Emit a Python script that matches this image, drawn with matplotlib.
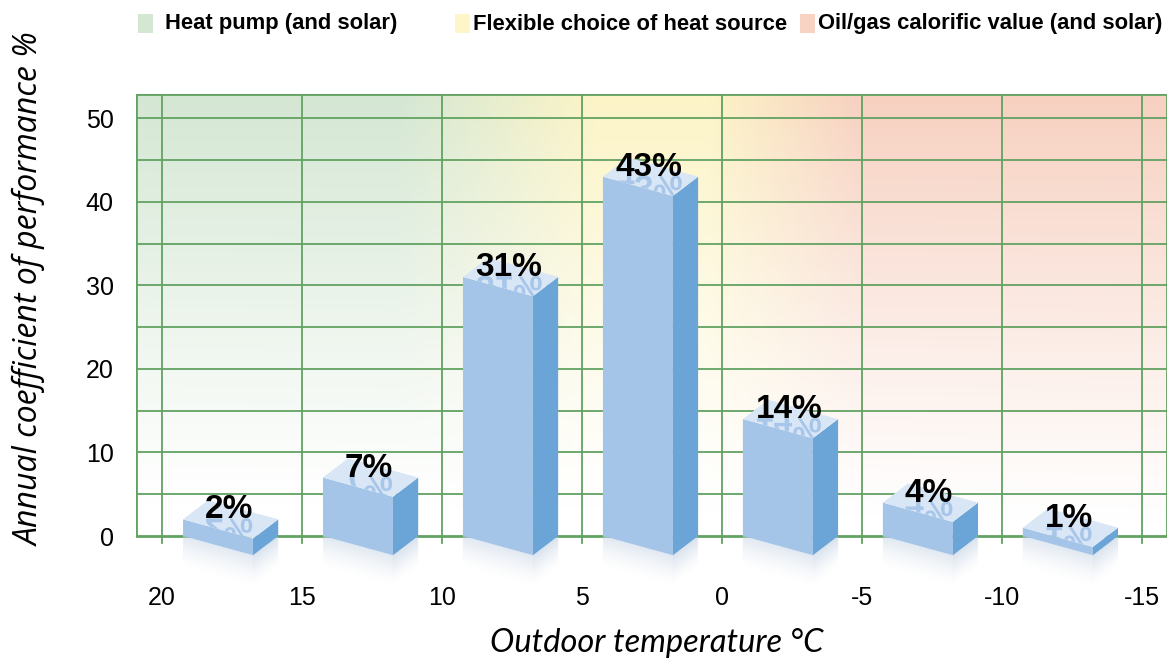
import numpy as np
import matplotlib
matplotlib.use("Agg")
import matplotlib.pyplot as plt
from matplotlib.patches import Polygon, Rectangle, PathPatch
from matplotlib.textpath import TextPath
from matplotlib.font_manager import FontProperties
import matplotlib.transforms as mtransforms

# share of annual heating work per outdoor temperature band
band_centres = [17.5, 12.5, 7.5, 2.5, -2.5, -7.5, -12.5]
shares = [2, 7, 31, 43, 14, 4, 1]
share_labels = ["2%", "7%", "31%", "43%", "14%", "4%", "1%"]
temp_ticks = [20, 15, 10, 5, 0, -5, -10, -15]
temp_ticklabels = ["20", "15", "10", "5", "0", "-5", "-10", "-15"]
perf_ticks = [0, 10, 20, 30, 40, 50]
legend_names = ["Heat pump (and solar)", "Flexible choice of heat source",
                "Oil/gas calorific value (and solar)"]

plt.rcParams["font.family"] = ["Liberation Sans", "DejaVu Sans"]

DPI = 100
W, H = 1173, 664
x_lo, x_hi = 20.93, -15.9
y_bot, y_top = -5.5, 52.9

fig = plt.figure(figsize=(W / DPI, H / DPI), dpi=DPI)
ax = fig.add_axes([136 / W, (H - 582) / H, 1031 / W, 488 / H])
ax.set_xlim(x_lo, x_hi)
ax.set_ylim(y_bot, y_top)
for s in ax.spines.values():
    s.set_visible(False)

# background: green -> yellow -> salmon, fading to white towards the bottom
green = np.array([212, 231, 211]) / 255
yellow = np.array([252, 244, 198]) / 255
salmon = np.array([247, 208, 192]) / 255
tx = np.linspace(x_lo, x_hi, 400)
vy = np.linspace(0, y_top, 200)
anchors_t = [-16, -5, 0.5, 4.5, 11.5, 21]
cols = np.array([salmon, salmon, yellow, yellow, green, green])
row = np.stack([np.interp(tx, anchors_t, cols[:, k]) for k in range(3)], axis=1)
v0 = np.interp(tx, [-16, 0, 21], [1.5, 3.0, 4.0])
fade = np.clip((vy[:, None] - v0[None, :]) / (y_top - v0[None, :]), 0, 1) ** 1.1
img = 1 - fade[:, :, None] * (1 - row[None, :, :])
ax.imshow(img, extent=(x_lo, x_hi, 0, y_top), origin="lower", aspect="auto",
          interpolation="bilinear", zorder=0)

grid_c = "#62a262"
for yv in range(5, 51, 5):
    ax.plot([x_lo, x_hi], [yv, yv], color=grid_c, lw=1.3, zorder=1)
for t in temp_ticks:
    ax.plot([t, t], [-0.85, y_top], color=grid_c, lw=1.3, zorder=1)
ax.add_patch(Rectangle((x_lo, 0), x_hi - x_lo, y_top, fill=False,
                       edgecolor=grid_c, lw=2, zorder=1))

front_c, side_c, top_c = "#a5c5e8", "#6ba4d6", "#d8e6f6"
ghost_c = "#a3c3e8"
fp_label = FontProperties(family="Liberation Sans", weight="bold", size=24)
px_per_pt = DPI / 72.0

for c, h, lab in zip(band_centres, shares, share_labels):
    fl, fr, br, bl = c + 1.75, c - 0.75, c - 1.65, c + 0.85
    d = 2.3
    # reflection below the box
    n = 24
    depth = 3.6
    for i in range(n):
        a0 = i / n * depth
        a1 = (i + 1) / n * depth
        al = 0.55 * (1 - i / n) ** 1.5
        ax.add_patch(Polygon([(fl, -a0), (fr, -d - a0), (fr, -d - a1), (fl, -a1)],
                             closed=True, fc="#c9d6e6", ec="none", alpha=al,
                             zorder=2, clip_on=False))
        ax.add_patch(Polygon([(fr, -d - a0), (br, -a0), (br, -a1), (fr, -d - a1)],
                             closed=True, fc="#b9cbe0", ec="none", alpha=al,
                             zorder=2, clip_on=False))
    front = Polygon([(fl, 0), (fr, -d), (fr, h - d), (fl, h)], closed=True,
                    fc=front_c, ec="none", zorder=3, clip_on=False)
    side = Polygon([(fr, -d), (br, 0), (br, h), (fr, h - d)], closed=True,
                   fc=side_c, ec="none", zorder=3, clip_on=False)
    top = Polygon([(fl, h), (fr, h - d), (br, h), (bl, h + d)], closed=True,
                  fc=top_c, ec="none", zorder=3, clip_on=False)
    for p in (front, side, top):
        ax.add_patch(p)

    # mirrored label reflected on the top face
    tp = TextPath((0, 0), lab, prop=fp_label)
    ext = tp.get_extents()
    trans = (mtransforms.Affine2D().translate(-(ext.x0 + ext.x1) / 2, 0)
             .scale(px_per_pt, -px_per_pt)
             + mtransforms.ScaledTranslation(c + 0.1, h + 0.1, ax.transData))
    ghost = PathPatch(tp, transform=trans, fc=ghost_c, ec="none", alpha=0.9,
                      zorder=4)
    ghost.set_clip_path(top)
    ax.add_patch(ghost)

    ax.text(c + 0.1, h + 0.1, lab, ha="center", va="baseline",
            fontproperties=fp_label, color="black", zorder=5)

ax.set_xticks(temp_ticks)
ax.set_xticklabels(temp_ticklabels)
ax.set_yticks(perf_ticks)
ax.tick_params(axis="both", length=0, labelsize=18)
ax.tick_params(axis="y", pad=16)
ax.tick_params(axis="x", pad=3)

fig.text(657 / W, 1 - 643 / H, "Outdoor temperature °C", ha="center", va="center",
         family=["Lato", "DejaVu Sans"], style="italic", fontsize=23.5)
fig.text(30 / W, 1 - 289 / H, "Annual coefficient of performance %", ha="center",
         va="center", rotation=90, family=["Open Sans", "DejaVu Sans"],
         style="italic", fontsize=23)

# legend along the top edge
legend_cols = ["#d4e7d3", "#fdf6c8", "#f8d3c3"]
legend_sq = [138, 455, 800]
legend_tx = [165, 473, 818]
for x0, xt, col, name in zip(legend_sq, legend_tx, legend_cols, legend_names):
    fig.patches.append(Rectangle((x0 / W, 1 - 33 / H), 15 / W, 19 / H,
                                 transform=fig.transFigure, fc=col, ec="none"))
    fig.text(xt / W, 1 - 24 / H, name, ha="left", va="center",
             family=["Liberation Sans", "DejaVu Sans"], weight="bold",
             fontsize=15.8)

fig.savefig("out.png", dpi=DPI)
